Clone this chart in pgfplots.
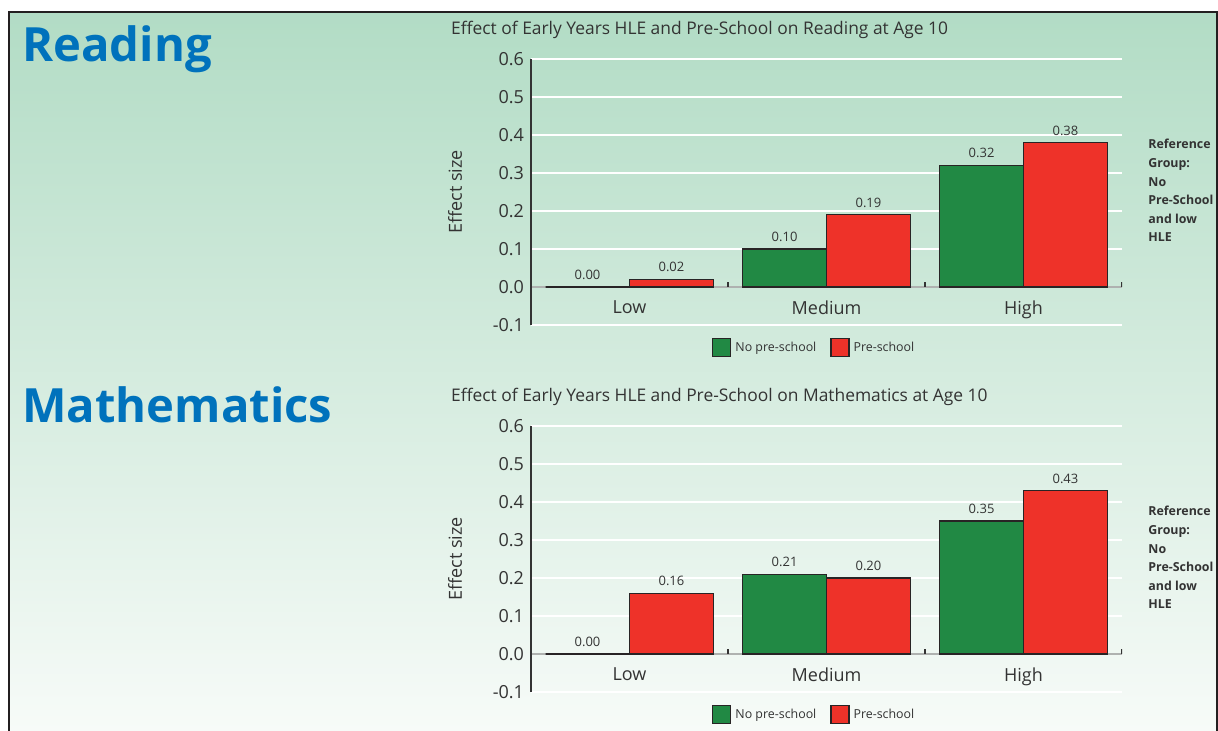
\documentclass[border=0pt]{standalone}
\usepackage{fontspec}
\setmainfont{Open Sans}
\usepackage{pgfplots}
\pgfplotsset{compat=1.18}

\definecolor{bargreen}{RGB}{33,137,68}
\definecolor{barred}{RGB}{238,50,41}
\definecolor{bardark}{RGB}{40,36,37}
\definecolor{bgtop}{RGB}{178,220,197}
\definecolor{bgbot}{RGB}{247,251,248}
\definecolor{framec}{RGB}{35,31,32}
\definecolor{headblue}{RGB}{0,114,188}
\definecolor{textdark}{RGB}{51,51,51}
\definecolor{zerogray}{RGB}{175,178,176}

\pgfplotsset{
  effect/.style={
    scale only axis, width=295.5pt, height=133pt, anchor=south west,
    xmin=-0.5, xmax=2.5, ymin=-0.1, ymax=0.6,
    axis y line*=left, axis x line*=middle,
    y axis line style={draw=textdark, line width=0.9pt},
    x axis line style={draw=zerogray, line width=0.9pt},
    ymajorgrids, grid style={white, line width=1pt},
    major tick length=0pt,
    xtick={0,1,2}, xticklabels={Low,Medium,High},
    ytick={-0.1,0,0.1,0.2,0.3,0.4,0.5,0.6},
    /pgf/number format/assume math mode=true,
    yticklabel style={/pgf/number format/.cd, fixed, fixed zerofill, precision=1},
    tick label style={font=\fontsize{9}{10}\selectfont, text=textdark},
    xticklabel style={yshift=-3.5pt},
    ylabel={Effect size},
    ylabel style={at={(axis description cs:-0.1286,0.5)}, anchor=center, font=\fontsize{9}{10}\selectfont, text=textdark},
    title style={at={(axis description cs:-0.147,1.064)}, anchor=west, font=\fontsize{8.7}{10}\selectfont, text=textdark},
    ybar, bar width=0.426,
    nodes near coords,
    every node near coord/.append style={font=\fontsize{6.5}{7}\selectfont, text=textdark,
      /pgf/number format/.cd, fixed, fixed zerofill, precision=2},
    legend image code/.code={\draw[#1, draw=bardark] (0pt,-4.5pt) rectangle (9pt,4.5pt);},
    legend style={at={(axis description cs:0.481,-0.086)}, anchor=center, draw=none, fill=none,
      legend columns=2, font=\fontsize{6.2}{7}\selectfont, text=textdark,
      /tikz/every even column/.append style={column sep=5pt}},
  },
  nops/.style={fill=bargreen, draw=bardark, line width=0.6pt, bar shift=-0.213},
  withps/.style={fill=barred, draw=bardark, line width=0.6pt, bar shift=0.213},
}

\begin{document}
\begin{tikzpicture}
\useasboundingbox (0,0) rectangle (609pt,365.5pt);
\fill[white] (0,0) rectangle (609pt,365.5pt);
\shade[top color=bgtop, bottom color=bgbot] (4.5pt,0) rectangle (608.3pt,359.5pt);
\draw[framec, line width=1pt] (4.5pt,0) -- (4.5pt,359.5pt) -- (608.3pt,359.5pt) -- (608.3pt,0);

\begin{scope}[x=0.5pt, y=-0.5pt, shift={(0,365.5pt)}]
  \node[anchor=base west, inner sep=0pt, text=headblue, font=\fontsize{23.6}{28}\selectfont\bfseries] at (22,62) {Reading};
  \node[anchor=base west, inner sep=0pt, text=headblue, font=\fontsize{23.6}{28}\selectfont\bfseries] at (22,423) {Mathematics};
  \node[anchor=north west, inner sep=0pt, align=left, text=textdark, font=\fontsize{6.2}{9.3}\selectfont\bfseries] at (1148,139)
    {Reference\\Group:\\No\\Pre-School\\and low\\HLE};
  \node[anchor=north west, inner sep=0pt, align=left, text=textdark, font=\fontsize{6.2}{9.3}\selectfont\bfseries] at (1148,506)
    {Reference\\Group:\\No\\Pre-School\\and low\\HLE};
\end{scope}

\begin{axis}[effect, at={(265.5pt,203pt)},
  title={Effect of Early Years HLE and Pre-School on Reading at Age 10}]
\addplot[nops] coordinates {(0,0.00) (1,0.10) (2,0.32)};
\addplot[withps] coordinates {(0,0.02) (1,0.19) (2,0.38)};
\legend{No pre-school, Pre-school}
\draw[textdark, line width=0.7pt] (axis cs:0.5,0) -- (axis cs:0.5,0.013)
  (axis cs:1.5,0) -- (axis cs:1.5,0.013) (axis cs:2.5,0) -- (axis cs:2.5,0.013);
\end{axis}

\begin{axis}[effect, at={(265.5pt,19.5pt)},
  title={Effect of Early Years HLE and Pre-School on Mathematics at Age 10}]
\addplot[nops] coordinates {(0,0.00) (1,0.21) (2,0.35)};
\addplot[withps] coordinates {(0,0.16) (1,0.20) (2,0.43)};
\legend{No pre-school, Pre-school}
\draw[textdark, line width=0.7pt] (axis cs:0.5,0) -- (axis cs:0.5,0.013)
  (axis cs:1.5,0) -- (axis cs:1.5,0.013) (axis cs:2.5,0) -- (axis cs:2.5,0.013);
\end{axis}
\end{tikzpicture}
\end{document}
